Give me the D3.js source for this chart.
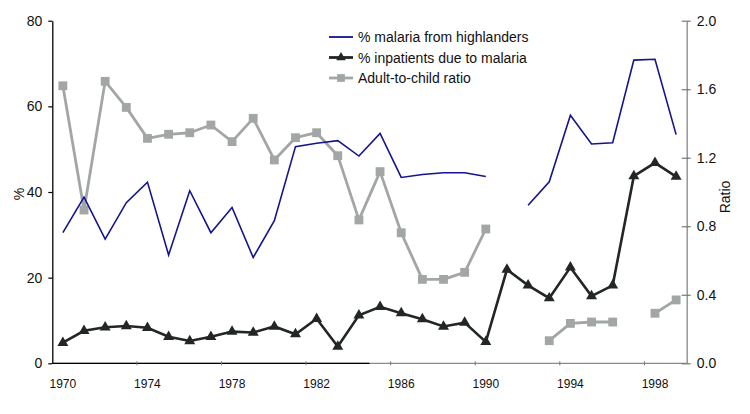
<!DOCTYPE html>
<html>
<head>
<meta charset="utf-8">
<script src="https://cdn.jsdelivr.net/npm/d3@7"></script>
<style>
  html, body { margin: 0; padding: 0; background: #fff; }
  svg { display: block; font-family: "Liberation Sans", Arial, sans-serif; }
</style>
</head>
<body>
<svg id="chart" width="750" height="414"></svg>
<script>
const years = d3.range(1970, 2000);
const highlanders = [30.5, 38.8, 29.0, 37.5, 42.3, 25.3, 40.3, 30.5, 36.4, 24.7,
  33.3, 50.6, 51.4, 52.0, 48.4, 53.7, 43.4, 44.1, 44.5, 44.5,
  43.6, null, 36.9, 42.4, 57.9, 51.2, 51.5, 70.8, 71.0, 53.4];
const inpatients = [4.8, 7.6, 8.4, 8.7, 8.3, 6.2, 5.2, 6.2, 7.4, 7.2,
  8.6, 6.8, 10.4, 3.9, 11.2, 13.2, 11.7, 10.3, 8.6, 9.5,
  5.0, 21.9, 18.2, 15.2, 22.4, 15.7, 18.2, 43.7, 46.8, 43.6];
const ratio = [1.62, 0.895, 1.646, 1.494, 1.313, 1.337, 1.346, 1.391, 1.294, 1.430,
  1.187, 1.317, 1.346, 1.212, 0.837, 1.119, 0.762, 0.490, 0.490, 0.531,
  0.784, null, null, 0.132, 0.233, 0.241, 0.241, null, 0.292, 0.370];
const xTickLabels = [1970, 1974, 1978, 1982, 1986, 1990, 1994, 1998];
const leftTicks = [0, 20, 40, 60, 80];
const rightTicks = [0.0, 0.4, 0.8, 1.2, 1.6, 2.0];
const seriesNames = ["% malaria from highlanders", "% inpatients due to malaria", "Adult-to-child ratio"];

const svg = d3.select("#chart");
const pLeft = 52.3, pRight = 686.7, pTop = 20.7, pBottom = 363.3;

const x = d3.scaleBand().domain(years).range([pLeft, pRight]).padding(0);
const cx = d => x(d) + x.bandwidth() / 2;
const yL = d3.scaleLinear().domain([0, 80]).range([pBottom, pTop]);
const yR = d3.scaleLinear().domain([0, 2]).range([pBottom, pTop]);

const blue = "#14148c", dark = "#222625", grey = "#a2a6a5";

// Axes
const gx = svg.append("g").attr("transform", `translate(0,${pBottom})`);
gx.append("line").attr("x1", pLeft).attr("x2", pRight).attr("stroke", "#8a8a8a").attr("stroke-width", 1.3);
gx.append("line").attr("x1", pLeft).attr("x2", x(1985)).attr("stroke", "#000").attr("stroke-width", 1.3);
xTickLabels.forEach(yr => {
  const xb = x(yr);
  if (yr !== 1970) gx.append("line").attr("x1", xb).attr("x2", xb).attr("y1", -2).attr("y2", 2)
    .attr("stroke", "#777").attr("stroke-width", 1);
  gx.append("text").attr("x", cx(yr)).attr("y", 24.5).attr("text-anchor", "middle")
    .attr("font-size", 12).attr("fill", "#111").text(yr);
});

const gl = svg.append("g").attr("transform", `translate(${pLeft},0)`)
  .call(d3.axisLeft(yL).tickValues(leftTicks).tickSize(4).tickSizeOuter(0).tickPadding(6));
gl.select(".domain").attr("stroke", "#000").attr("stroke-width", 1.3);
gl.selectAll(".tick line").attr("stroke", "#000").attr("stroke-width", 1.2);
gl.selectAll(".tick text").attr("font-size", 14).attr("fill", "#111").attr("font-family", "Liberation Sans, Arial, sans-serif");

const gr = svg.append("g").attr("transform", `translate(${pRight},0)`)
  .call(d3.axisRight(yR).tickValues(rightTicks).tickSize(4).tickSizeOuter(0).tickPadding(6).tickFormat(d3.format(".1f")));
gr.select(".domain").attr("stroke", "#888").attr("stroke-width", 1.3);
gr.selectAll(".tick line").attr("x1", -5).attr("x2", 4).attr("stroke", "#777").attr("stroke-width", 1.2);
gr.selectAll(".tick text").attr("font-size", 14).attr("fill", "#111").attr("font-family", "Liberation Sans, Arial, sans-serif");

svg.append("text").attr("transform", `translate(24,${(pTop + pBottom) / 2 + 2}) rotate(-90)`)
  .attr("text-anchor", "middle").attr("font-size", 14).attr("fill", "#111").text("%");
svg.append("text").attr("transform", `translate(730,${(pTop + pBottom) / 2 + 5}) rotate(-90)`)
  .attr("text-anchor", "middle").attr("font-size", 14).attr("fill", "#111").text("Ratio");

// Lines
const lineL = d3.line().defined(d => d[1] != null).x(d => cx(d[0])).y(d => yL(d[1]));
const lineR = d3.line().defined(d => d[1] != null).x(d => cx(d[0])).y(d => yR(d[1]));

const hiData = years.map((y, i) => [y, highlanders[i]]);
const inData = years.map((y, i) => [y, inpatients[i]]);
const raData = years.map((y, i) => [y, ratio[i]]);

svg.append("path").attr("d", lineR(raData)).attr("fill", "none").attr("stroke", grey).attr("stroke-width", 2.8).attr("stroke-linejoin", "round");
svg.selectAll(".sq").data(raData.filter(d => d[1] != null)).join("path")
  .attr("transform", d => `translate(${cx(d[0])},${yR(d[1])})`)
  .attr("d", d3.symbol(d3.symbolSquare, 78)).attr("fill", grey);

svg.append("path").attr("d", lineL(hiData)).attr("fill", "none").attr("stroke", blue).attr("stroke-width", 1.6);

svg.append("path").attr("d", lineL(inData)).attr("fill", "none").attr("stroke", dark).attr("stroke-width", 2.6);
svg.selectAll(".tri").data(inData).join("path")
  .attr("transform", d => `translate(${cx(d[0])},${yL(d[1])})`)
  .attr("d", d3.symbol(d3.symbolTriangle, 52)).attr("fill", dark);

// Legend
const lg = svg.append("g");
const rowsY = [37, 57.5, 78];
const styles = [
  {color: blue, w: 1.8, sym: null},
  {color: dark, w: 2.8, sym: d3.symbolTriangle},
  {color: grey, w: 2.8, sym: d3.symbolSquare}
];
seriesNames.forEach((name, i) => {
  const y = rowsY[i];
  lg.append("line").attr("x1", 329).attr("x2", 353).attr("y1", y).attr("y2", y)
    .attr("stroke", styles[i].color).attr("stroke-width", styles[i].w);
  if (styles[i].sym) lg.append("path").attr("transform", `translate(341,${y})`)
    .attr("d", d3.symbol(styles[i].sym, styles[i].sym === d3.symbolSquare ? 60 : 40)).attr("fill", styles[i].color);
  lg.append("text").attr("x", 358).attr("y", y + 5).attr("font-size", 14).attr("fill", "#111").text(name);
});
</script>
</body>
</html>
